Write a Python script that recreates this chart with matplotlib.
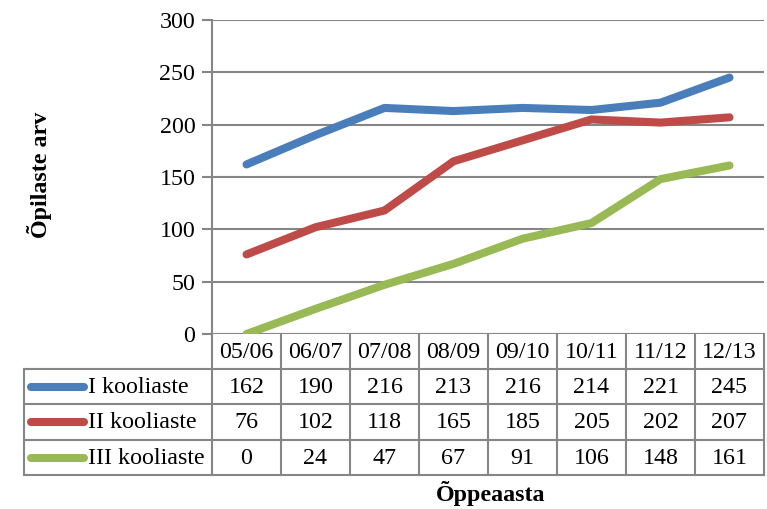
import matplotlib
matplotlib.use("Agg")
import matplotlib.pyplot as plt
from matplotlib.lines import Line2D

categories = ['05/06', '06/07', '07/08', '08/09', '09/10', '10/11', '11/12', '12/13']
series_names = ['I kooliaste', 'II kooliaste', 'III kooliaste']
s1 = [162, 190, 216, 213, 216, 214, 221, 245]
s2 = [76, 102, 118, 165, 185, 205, 202, 207]
s3 = [0, 24, 47, 67, 91, 106, 148, 161]
series = [s1, s2, s3]
colors = ['#4A7EBB', '#BE4B48', '#98B954']
yticks = [0, 50, 100, 150, 200, 250, 300]

plt.rcParams['font.family'] = ['Liberation Serif', 'DejaVu Serif']
W, H = 767, 509
fig = plt.figure(figsize=(W / 100, H / 100), dpi=100)
px0, px1, py0, py1 = 212, 764, 334, 20
ax = fig.add_axes([px0 / W, 1 - py0 / H, (px1 - px0) / W, (py0 - py1) / H])

grid_c = '#868686'
n = len(categories)
xs = list(range(n))
for vals, c in zip(series, colors):
    ax.plot(xs, vals, color=c, lw=5.8, solid_capstyle='round', solid_joinstyle='round', zorder=3)

ax.set_xlim(-0.5, n - 0.5)
ax.set_ylim(0, 300)
ax.set_yticks(yticks)
ax.set_xticks([])
ax.yaxis.grid(True, color=grid_c, lw=1.5)
ax.set_axisbelow(True)
for s in ['top', 'right', 'bottom']:
    ax.spines[s].set_visible(False)
ax.spines['left'].set_color(grid_c)
ax.spines['left'].set_linewidth(1.5)
fs = 17.3
ax.tick_params(axis='y', length=7, width=1.5, color=grid_c, labelsize=fs, pad=5)

def fx_data(x):
    return ax.transData.transform((x, 0))[0] / W

def fy(p):
    return 1 - p / H

rows = [334, 369, 404, 440, 475]
legend_left = 24 / W
right = fx_data(n - 0.5)

def line(xa, ya, xb, yb):
    fig.add_artist(Line2D([xa, xb], [ya, yb], color=grid_c, lw=1.5, transform=fig.transFigure, clip_on=False))

for i in range(n + 1):
    line(fx_data(i - 0.5), fy(rows[0]), fx_data(i - 0.5), fy(rows[-1]))
line(legend_left, fy(rows[1]), legend_left, fy(rows[-1]))
for r in rows[1:]:
    line(legend_left, fy(r), right, fy(r))

for i, cat in enumerate(categories):
    fig.text(fx_data(i), fy((rows[0] + rows[1]) / 2 + 1), cat, ha='center', va='center', fontsize=fs)
for k, (name, vals, c) in enumerate(zip(series_names, series, colors)):
    ymid = (rows[k + 1] + rows[k + 2]) / 2
    yc = fy(ymid)
    fig.add_artist(Line2D([31 / W, 84 / W], [yc, yc], color=c, lw=5.8, solid_capstyle='round',
                          transform=fig.transFigure))
    fig.text(88 / W, fy(ymid + 1), name, ha='left', va='center', fontsize=fs)
    for i, v in enumerate(vals):
        fig.text(fx_data(i), fy(ymid + 1), str(v), ha='center', va='center', fontsize=fs)

fig.text(39 / W, fy(175), 'Õpilaste arv', rotation=90, ha='center', va='center', fontsize=fs, fontweight='bold')
fig.text(491 / W, fy(493), 'Õppeaasta', ha='center', va='center', fontsize=fs, fontweight='bold')

fig.savefig('out.png', dpi=100)
